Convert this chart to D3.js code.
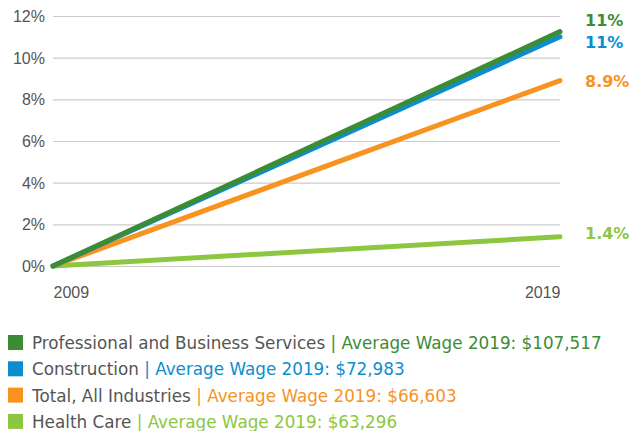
<!DOCTYPE html>
<html>
<head>
<meta charset="utf-8">
<script src="https://cdn.jsdelivr.net/npm/d3@7"></script>
<style>
  html, body { margin: 0; padding: 0; background: #fff; }
  svg { display: block; font-family: "DejaVu Sans", sans-serif; }
</style>
</head>
<body>
<svg id="chart" width="631" height="431"></svg>
<script>
// Cumulative wage growth since 2009, by industry
const years = [2009, 2019];
const seriesNames = [
  "Professional and Business Services",
  "Construction",
  "Total, All Industries",
  "Health Care"
];
const proServices = [0, 11.25];
const construction = [0, 11.0];
const totalIndustries = [0, 8.9];
const healthCare = [0, 1.4];
const endLabels = ["11%", "11%", "8.9%", "1.4%"];
const avgWages2019 = ["$107,517", "$72,983", "$66,603", "$63,296"];
const colors = ["#3c8c36", "#0b8ecf", "#f7931e", "#8dc63f"];
const yTicks = [0, 2, 4, 6, 8, 10, 12];

const seriesValues = [proServices, construction, totalIndustries, healthCare];

const svg = d3.select("#chart");

const x = d3.scaleLinear().domain(d3.extent(years)).range([53, 560]);
const y = d3.scaleLinear().domain([0, 12]).range([266, 16]);

// gridlines and percentage labels
const yAxis = d3.axisLeft(y).tickValues(yTicks).tickSize(-(560 - 53)).tickPadding(8)
  .tickFormat(d => d + "%");
const gy = svg.append("g").attr("transform", "translate(53,0)").call(yAxis);
gy.select(".domain").remove();
gy.selectAll(".tick line").attr("stroke", "#cbcbcb").attr("stroke-width", 1.2);
gy.selectAll(".tick text").attr("fill", "#555").style("font-size", "16px")
  .attr("x", -8).attr("dy", "0.35em");

// year labels
const xAxis = d3.axisBottom(x).tickValues(years).tickSize(0).tickPadding(0)
  .tickFormat(d3.format("d"));
const gx = svg.append("g").attr("transform", "translate(0,287)").call(xAxis);
gx.select(".domain").remove();
gx.selectAll(".tick text").attr("fill", "#555").style("font-size", "16px")
  .attr("text-anchor", (d, i) => i === 0 ? "start" : "end").attr("dy", "0.71em");

// lines, drawn lowest first so the top series sits on top
const line = d3.line().x((d, i) => x(years[i])).y(d => y(d));
const order = [3, 2, 1, 0];
svg.append("g").selectAll("path").data(order).join("path")
  .attr("d", i => line(seriesValues[i]))
  .attr("fill", "none")
  .attr("stroke", i => colors[i])
  .attr("stroke-width", 5)
  .attr("stroke-linecap", "round");

// end labels
const labelY = [20.5, 42.5, 81.5, 233.5];
svg.append("g").selectAll("text").data(seriesNames).join("text")
  .attr("x", 585)
  .attr("y", (d, i) => labelY[i])
  .attr("dy", "0.35em")
  .attr("fill", (d, i) => colors[i])
  .style("font-size", "16px")
  .style("font-weight", "bold")
  .text((d, i) => endLabels[i]);

// legend
const legend = svg.append("g");
const rows = legend.selectAll("g").data(seriesNames).join("g")
  .attr("transform", (d, i) => `translate(8,${335 + i * 26.3})`);
rows.append("rect").attr("width", 15).attr("height", 15)
  .attr("fill", (d, i) => colors[i]);
const t = rows.append("text").attr("x", 24).attr("y", 14)
  .style("font-size", "16.8px");
t.append("tspan").attr("fill", "#555").text(d => d + " ");
t.append("tspan").attr("fill", (d, i) => colors[i])
  .text((d, i) => "| Average Wage 2019: " + avgWages2019[i]);
</script>
</body>
</html>
